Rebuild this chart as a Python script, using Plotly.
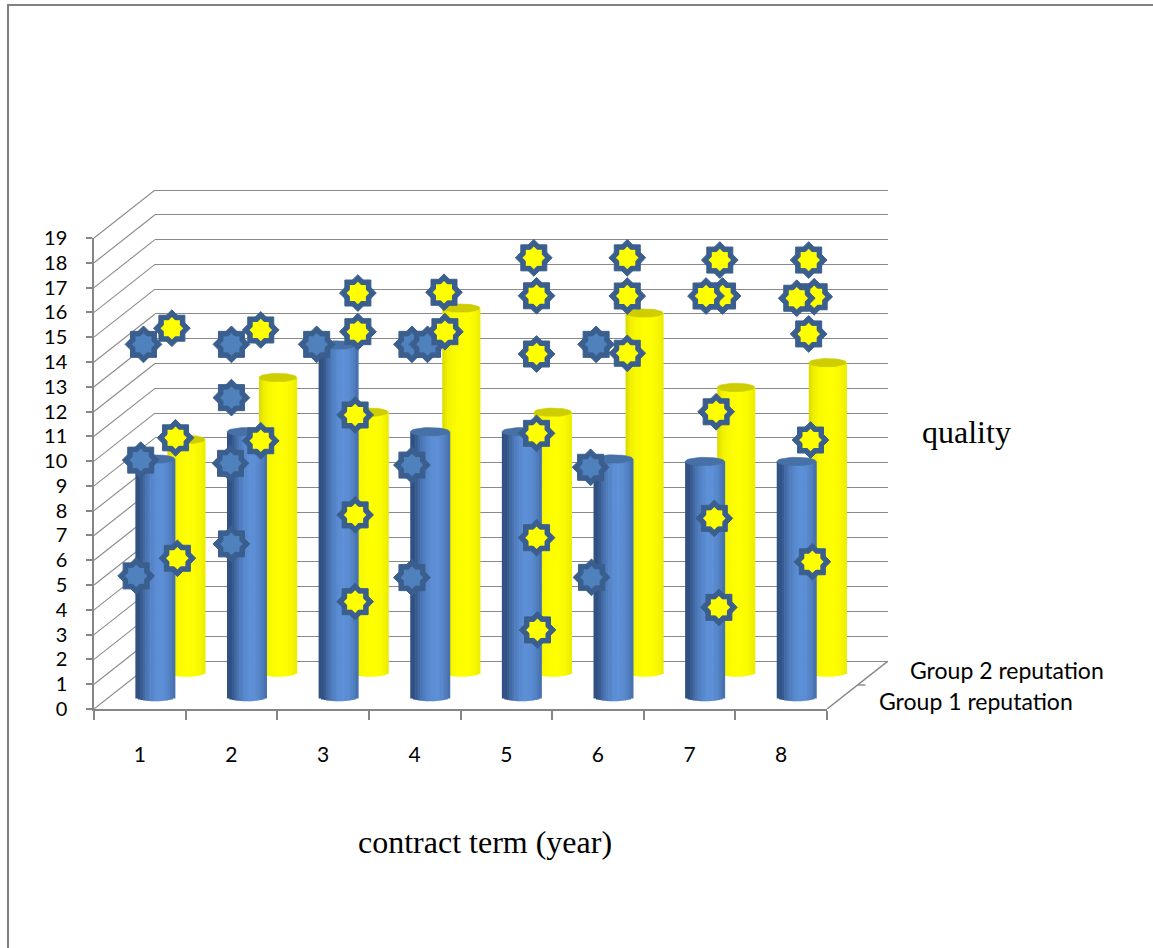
import math
import plotly.graph_objects as go

# ---------------- data ----------------
terms = [1, 2, 3, 4, 5, 6, 7, 8]
term_labels = ["1", "2", "3", "4", "5", "6", "7", "8"]
quality_ticks = list(range(0, 20))

group1_name = "Group 1 reputation"
group2_name = "Group 2 reputation"
group1_quality = [9.6, 10.7, 14.2, 10.7, 10.7, 9.6, 9.5, 9.5]
group2_quality = [9.4, 11.9, 10.5, 14.7, 10.5, 14.5, 11.5, 12.5]

# individual observations plotted as stars (x = contract term, y = quality)
group1_obs_term = [1.04, 1.01, 0.96, 2.00, 2.00, 1.99, 2.00, 2.93,
                   3.97, 3.97, 3.97, 5.98, 5.92, 5.93, 4.14]
group1_obs_quality = [14.71, 10.04, 5.37, 14.71, 12.56, 9.91, 6.66, 14.71,
                      14.71, 9.84, 5.30, 14.71, 9.75, 5.31, 14.71]
group1_obs_raised = [False] * 14 + [True]

group2_obs_term = [1.35, 1.39, 1.41, 2.32, 2.32, 3.38, 3.38, 3.35, 3.35, 3.35,
                   4.32, 4.33, 5.30, 5.33, 5.33, 5.33, 5.33, 5.34,
                   6.32, 6.32, 6.32, 7.33, 7.36, 7.29, 7.27, 7.32,
                   8.30, 8.36, 8.30, 8.32, 8.34, 7.18, 8.17]
group2_obs_quality = [15.36, 10.94, 6.08, 15.29, 10.82, 16.78, 15.22, 11.86, 7.83, 4.33,
                      16.81, 15.22, 18.20, 16.67, 14.32, 11.12, 6.91, 3.19,
                      18.20, 16.66, 14.35, 18.11, 16.66, 11.99, 7.69, 4.10,
                      18.11, 16.63, 15.13, 10.85, 5.94, 16.66, 16.57]
group2_obs_raised = [False] * 31 + [True, True]

# ---------------- geometry of the oblique 3-D frame ----------------
W, H = 1153, 948
WALL_LEFT, WALL_RIGHT = 94.0, 827.0      # front plane, px
WALL_BOTTOM, WALL_TOP = 709.0, 238.0     # px of quality 0 and 19 on the front plane
Q_MAX = 19
UNIT = (WALL_BOTTOM - WALL_TOP) / Q_MAX  # px per quality unit
CAT_W = (WALL_RIGHT - WALL_LEFT) / len(terms)
DEPTH_DX, DEPTH_DY = 61.0, 48.0          # shift of the back wall, px
DEPTH_G1, DEPTH_G2 = 0.25, 0.76          # depth of each bar row
PAD = 0.06

GRID = "#8a8a8a"
AXIS = "#868686"
STAR_EDGE = "#3a5f8e"


def x_domain(depth, extra=0.0):
    return [(WALL_LEFT + depth * DEPTH_DX) / W,
            (WALL_RIGHT + depth * DEPTH_DX + extra) / W]


def y_domain(depth, lo, hi):
    zero = WALL_BOTTOM - depth * DEPTH_DY
    bottom = zero - lo * UNIT
    top = zero - hi * UNIT
    return [1 - bottom / H, 1 - top / H]


def mix(c0, c1, t):
    return "rgb(%d,%d,%d)" % tuple(round(a + (b - a) * t) for a, b in zip(c0, c1))


def blue_shade(u):
    t = max(math.cos((u - 0.62) * math.pi), 0.0) ** 0.8
    return mix((38, 66, 110), (92, 143, 214), 0.2 + 0.8 * t)


def yellow_shade(u):
    t = max(math.cos((u - 0.55) * math.pi * 0.9), 0.0) ** 0.3
    return mix((160, 160, 0), (255, 255, 0), 0.3 + 0.7 * t)


fig = go.Figure()

# 1) back wall: horizontal gridlines
fig.add_trace(go.Scatter(x=[None], y=[None], xaxis="x", yaxis="y",
                         showlegend=False, hoverinfo="skip"))

# 2) side wall: diagonals joining the front ticks to the back wall
rise = DEPTH_DY / UNIT
sx, sy = [], []
for q in quality_ticks:
    sx += [0, 1, None]
    sy += [q, q + rise, None]
fig.add_trace(go.Scatter(x=sx, y=sy, xaxis="x2", yaxis="y2", mode="lines",
                         line=dict(color=GRID, width=1.1), cliponaxis=False,
                         showlegend=False, hoverinfo="skip"))

# 3) floor: right-hand depth edge with its tick
run = DEPTH_DX / CAT_W
fx = [len(terms) + 0.5, len(terms) + 0.5 + run, None,
      len(terms) + 0.5 + 0.5 * run, len(terms) + 0.5 + 0.5 * run + 8 / CAT_W]
fy = [0, 1, None, 0.5, 0.5]
fig.add_trace(go.Scatter(x=fx, y=fy, xaxis="x3", yaxis="y3", mode="lines",
                         line=dict(color=AXIS, width=1.4), cliponaxis=False,
                         showlegend=False, hoverinfo="skip"))

# 4/5) cylinders, back row first
N_STRIPS = 16
CAP = 4.2 / UNIT  # half height of the elliptical caps, in quality units


def add_cylinders(values, width, shade, cap_color, xa, ya, name):
    for k in range(N_STRIPS):
        uc = (k + 0.5) / N_STRIPS
        curve = CAP * math.sqrt(max(0.0, 1 - (2 * uc - 1) ** 2))
        fig.add_trace(go.Bar(
            x=terms, y=[v + curve for v in values], base=[-curve] * len(values),
            width=width / N_STRIPS * 1.25, offset=-width / 2 + k * width / N_STRIPS,
            marker=dict(color=shade(uc), line=dict(width=0)),
            xaxis=xa, yaxis=ya, name=name, showlegend=False, hoverinfo="skip"))
    ex, ey = [], []
    for t, v in zip(terms, values):
        for i in range(41):
            a = 2 * math.pi * i / 40
            ex.append(t + width / 2 * math.cos(a))
            ey.append(v + CAP * math.sin(a))
        ex.append(None)
        ey.append(None)
    fig.add_trace(go.Scatter(x=ex, y=ey, xaxis=xa, yaxis=ya, mode="lines",
                             fill="toself", fillcolor=cap_color,
                             line=dict(width=0.6, color=cap_color),
                             showlegend=False, hoverinfo="skip"))


add_cylinders(group2_quality, 0.41, yellow_shade, "#cdcd00", "x4", "y4", group2_name)
add_cylinders(group1_quality, 0.43, blue_shade, "#4670a6", "x5", "y5", group1_name)

# 6) front plane: axes and the observation stars
STAR_OUT, STAR_IN = 26, 16


def add_stars(xs, ys, fill):
    n = len(xs)
    for size, color in ((STAR_OUT, STAR_EDGE), (STAR_IN, fill)):
        fig.add_trace(go.Scatter(
            x=xs + xs, y=ys + ys, xaxis="x6", yaxis="y6", mode="markers",
            marker=dict(symbol="square", size=size, color=color,
                        angle=[0] * n + [45] * n,
                        line=dict(width=1 if color == STAR_EDGE else 0, color=STAR_EDGE)),
            cliponaxis=False, showlegend=False, hoverinfo="skip"))


for raised in (False, True):
    xs = [x for x, r in zip(group1_obs_term, group1_obs_raised) if r == raised]
    ys = [y for y, r in zip(group1_obs_quality, group1_obs_raised) if r == raised]
    add_stars(xs, ys, "#4f81bd")
for raised in (False, True):
    xs = [x for x, r in zip(group2_obs_term, group2_obs_raised) if r == raised]
    ys = [y for y, r in zip(group2_obs_quality, group2_obs_raised) if r == raised]
    add_stars(xs, ys, "#ffff00")

hidden = dict(visible=False, fixedrange=True, automargin=False)
x_rng = [0.5, len(terms) + 0.5]

fig.update_layout(
    template="none",
    width=W, height=H, autosize=False,
    margin=dict(l=0, r=0, t=0, b=0, pad=0, autoexpand=False),
    paper_bgcolor="white", plot_bgcolor="rgba(0,0,0,0)",
    showlegend=False, barmode="overlay", hovermode=False,
    font=dict(family="Lato, sans-serif", color="black"),
    xaxis=dict(domain=x_domain(1), range=x_rng, **hidden),
    yaxis=dict(domain=y_domain(1, -PAD, Q_MAX + PAD), range=[-PAD, Q_MAX + PAD],
               anchor="x", showgrid=True, gridcolor=GRID, gridwidth=1.3,
               tickmode="array", tickvals=quality_ticks, showticklabels=False,
               ticks="", zeroline=False, showline=False, fixedrange=True,
               automargin=False),
    xaxis2=dict(domain=[WALL_LEFT / W, (WALL_LEFT + DEPTH_DX) / W], range=[0, 1],
                anchor="y2", **hidden),
    yaxis2=dict(domain=y_domain(0, 0, Q_MAX + rise), range=[0, Q_MAX + rise],
                anchor="x2", **hidden),
    xaxis3=dict(domain=x_domain(0, DEPTH_DX), range=[0.5, len(terms) + 0.5 + run],
                anchor="y3", **hidden),
    yaxis3=dict(domain=[1 - WALL_BOTTOM / H, 1 - (WALL_BOTTOM - DEPTH_DY) / H],
                range=[0, 1], anchor="x3", **hidden),
    xaxis4=dict(domain=x_domain(DEPTH_G2), range=x_rng, anchor="y4", **hidden),
    yaxis4=dict(domain=y_domain(DEPTH_G2, -0.6, Q_MAX), range=[-0.6, Q_MAX],
                anchor="x4", **hidden),
    xaxis5=dict(domain=x_domain(DEPTH_G1), range=x_rng, anchor="y5", **hidden),
    yaxis5=dict(domain=y_domain(DEPTH_G1, -0.6, Q_MAX), range=[-0.6, Q_MAX],
                anchor="x5", **hidden),
    xaxis6=dict(domain=x_domain(0), range=x_rng, anchor="y6", fixedrange=True,
                automargin=False,
                showline=True, linecolor=AXIS, linewidth=1.5, showgrid=False,
                zeroline=False, tickmode="array", tickvals=terms, ticktext=term_labels,
                ticks="", ticklabelstandoff=26, tickfont=dict(size=21),
                minor=dict(tickmode="array",
                           tickvals=[t - 0.5 for t in terms] + [terms[-1] + 0.5],
                           ticks="outside", ticklen=9, tickcolor=AXIS, tickwidth=1.5)),
    yaxis6=dict(domain=y_domain(0, 0, Q_MAX), range=[0, Q_MAX], anchor="x6",
                fixedrange=True, automargin=False,
                showline=True, linecolor=AXIS, linewidth=1.5,
                showgrid=False, zeroline=False, tickmode="array", tickvals=quality_ticks,
                ticks="outside", ticklen=6, tickcolor=AXIS, tickwidth=1.5,
                ticklabelstandoff=15, tickfont=dict(size=20)),
)

# depth-axis labels for the two rows
for depth, label, lift in ((DEPTH_G1, group1_name, -4), (DEPTH_G2, group2_name, 3)):
    fig.add_annotation(x=len(terms) + 0.5 + depth * run, y=depth, xref="x3", yref="y3",
                       text=label, showarrow=False, xanchor="left", yanchor="middle",
                       xshift=35, yshift=lift, font=dict(size=23, family="Lato, sans-serif"))

fig.add_annotation(x=966 / W, y=1 - 432 / H, xref="paper", yref="paper", text="quality",
                   showarrow=False, xanchor="center", yanchor="middle",
                   font=dict(size=32, family="Liberation Serif, serif"))
fig.add_annotation(x=485 / W, y=1 - 842 / H, xref="paper", yref="paper",
                   text="contract term (year)", showarrow=False,
                   xanchor="center", yanchor="middle",
                   font=dict(size=32, family="Liberation Serif, serif"))

# outer frame of the chart area
fig.add_shape(type="rect", xref="paper", yref="paper", x0=8 / W, y0=-0.05,
              x1=1.05, y1=1 - 5 / H, line=dict(color="#808080", width=2),
              fillcolor="rgba(0,0,0,0)", layer="below")

fig.write_html("out.html")
